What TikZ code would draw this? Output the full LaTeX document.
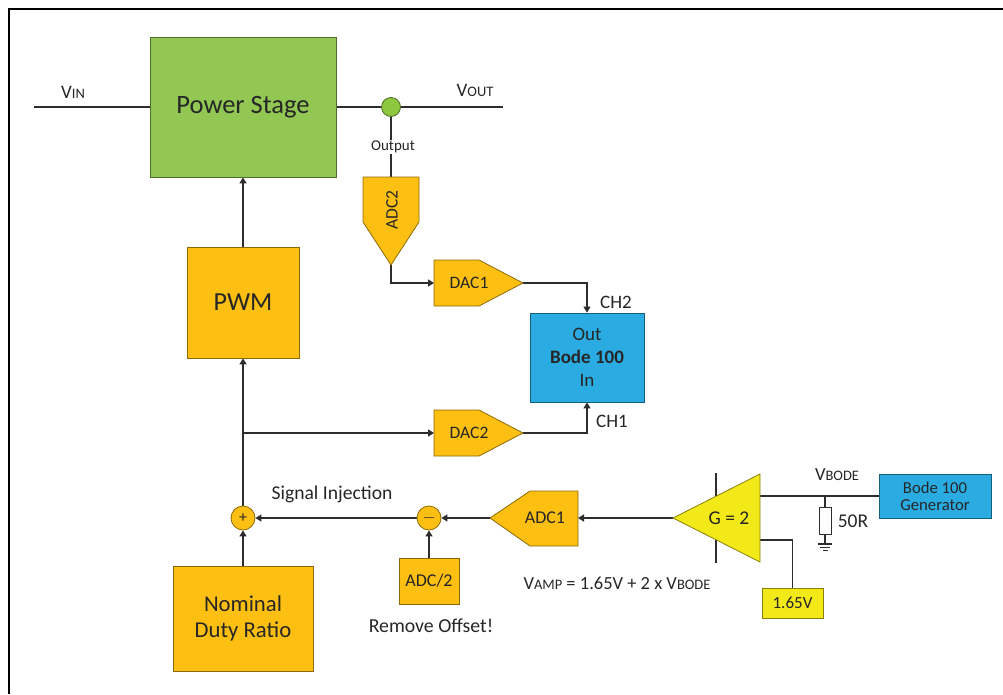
\documentclass[tikz,border=0pt]{standalone}
\usepackage{fontspec}
\setmainfont{Carlito}
\usetikzlibrary{arrows.meta}
\pgfdeclarelayer{bg}
\pgfsetlayers{bg,main}
\definecolor{psgreen}{RGB}{146,199,84}
\definecolor{dotgreen}{RGB}{141,198,63}
\definecolor{amber}{RGB}{252,191,18}
\definecolor{bodeblue}{RGB}{42,172,226}
\definecolor{ampyellow}{RGB}{244,233,24}
\definecolor{ink}{RGB}{38,38,38}
\definecolor{wirecol}{RGB}{45,45,45}
\newcommand{\fsz}[1]{\fontsize{#1}{#1}\selectfont}
\newcommand{\vsc}[2]{#1{\fsz{14.5}#2}}

\begin{document}
\begin{tikzpicture}[x=1pt,y=-1pt,
        wire/.style={draw=wirecol,line width=1.3pt},
        arr/.style={wire,-{Triangle[length=6pt,width=7pt]}},
        blk/.style={draw=#1!55!black,fill=#1,line width=0.8pt,text=ink,
                inner sep=0pt,align=center},
        lbl/.style={text=ink,inner sep=1pt,align=center}]
        \useasboundingbox (0,0) rectangle (1003,694);
        \draw[line width=2.6pt] (9,694) -- (9,9) -- (1003,9);

        \node (ps) [blk=psgreen,minimum width=186pt,minimum height=140pt,font=\fsz{26.5}] at (243,107) {Power Stage};
        \node (pwm) [blk=amber,minimum width=112pt,minimum height=111pt,font=\fsz{26}] at (243,302.5) {PWM};
        \node (ndr) [blk=amber,minimum width=140pt,minimum height=105pt,font=\fsz{22.7}] at (243,618.5) {Nominal\\[3pt]Duty Ratio};
        \node (bode) [blk=bodeblue,minimum width=114pt,minimum height=89pt,font=\fsz{19}] at (587,357.5) {Out\\[4pt]\textbf{Bode 100}\\[4pt]In};
        \node (half) [blk=amber,minimum width=60pt,minimum height=46pt,font=\fsz{18}] at (429,581) {ADC/2};
        \node (gen) [blk=bodeblue,minimum width=112pt,minimum height=44pt,font=\fsz{16.7}] at (935,496) {Bode 100\\Generator};
        \node (ref) [blk=ampyellow,minimum width=61pt,minimum height=30pt,font=\fsz{17}] at (792.5,603) {1.65V};
        \node (plus) [blk=amber,circle,minimum size=24pt,font=\fsz{16}] at (243,518) {+};
        \node (minus) [blk=amber,circle,minimum size=24pt,font=\fsz{16}] at (429,518) {$-$};
        \node (dot) [blk=dotgreen,circle,minimum size=19pt] at (391,107) {};
        \node (res) [draw=wirecol,fill=white,line width=1pt,minimum width=12pt,minimum height=27pt,inner sep=0pt] at (825,520.5) {};

        % converters and amplifier
        \draw[blk=amber] (363,177) -- (419,177) -- (419,222) -- (391,265) -- (363,222) -- cycle;
        \draw[blk=amber] (434,260) -- (479,260) -- (523,283) -- (479,306) -- (434,306) -- cycle;
        \draw[blk=amber] (434,410) -- (479,410) -- (523,433) -- (479,456) -- (434,456) -- cycle;
        \draw[blk=amber] (490,518) -- (530,491) -- (578,491) -- (578,546) -- (530,546) -- cycle;
        \draw[blk=ampyellow] (673,518) -- (760,474) -- (760,562) -- cycle;
        \node (adc2) [lbl,rotate=90,font=\fsz{17.5}] at (392,210) {ADC2};
        \node (dac1) [lbl,font=\fsz{17.5}] at (469,283) {DAC1};
        \node (dac2) [lbl,font=\fsz{17.5}] at (469,433) {DAC2};
        \node (adc1) [lbl,font=\fsz{18}] at (545,518) {ADC1};
        \node (amp) [lbl,font=\fsz{19.5}] at (729,518) {G = 2};

        \coordinate (vin) at (34,107);
        \coordinate (vout) at (503,107);
        \coordinate (adc2in) at (391,177);
        \coordinate (adc2out) at (391,265);
        \coordinate (dac1in) at (434,283);
        \coordinate (dac1out) at (523,283);
        \coordinate (dac2in) at (434,433);
        \coordinate (dac2out) at (523,433);
        \coordinate (tap) at (243,433);
        \coordinate (adc1in) at (578,518);
        \coordinate (adc1out) at (490,518);
        \coordinate (ampout) at (673,518);
        \coordinate (ampp) at (760,496);
        \coordinate (ampn) at (760,540);
        \coordinate (rtop) at (825,496);
        \coordinate (gnd) at (825,544);
        \coordinate (bartop) at (716,473);
        \coordinate (barbot) at (716,563);

        \node (vinl) [lbl,font=\fsz{19}] at (73,92) {\vsc{V}{IN}};
        \node (voutl) [lbl,font=\fsz{19}] at (475,90) {\vsc{V}{OUT}};
        \node (outl) [lbl,fill=white,font=\fsz{15}] at (393,147) {Output};
        \node (ch2) [lbl,font=\fsz{19}] at (616,302) {CH2};
        \node (ch1) [lbl,font=\fsz{19}] at (612,421) {CH1};
        \node (inj) [lbl,font=\fsz{19.6}] at (332,494) {Signal Injection};
        \node (offs) [lbl,font=\fsz{19.8}] at (431,626) {Remove Offset!};
        \node (vamp) [lbl,font=\fsz{18.5}] at (617,583) {\vsc{V}{AMP} = 1.65V + 2 x \vsc{V}{BODE}};
        \node (vbode) [lbl,font=\fsz{18.5}] at (837,475) {\vsc{V}{BODE}};
        \node (rl) [lbl,font=\fsz{19.5}] at (853,521) {50R};

        \begin{pgfonlayer}{bg}
                \draw[wire] (vin) -- (ps.west);
                \draw[wire] (ps.east) -- (dot) -- (vout);
                \draw[wire] (dot) -- (adc2in);
                \draw[arr] (adc2out) |- (dac1in);
                \draw[arr] (dac1out) -| (bode.north);
                \draw[arr] (dac2out) -| (bode.south);
                \draw[arr] (pwm.north) -- (ps.south);
                \draw[arr] (plus) -- (pwm.south);
                \draw[arr] (tap) -- (dac2in);
                \draw[arr] (ndr.north) -- (plus);
                \draw[arr] (minus) -- (plus);
                \draw[arr] (adc1out) -- (minus);
                \draw[arr] (half.north) -- (minus);
                \draw[arr] (ampout) -- (adc1in);
                \draw[wire] (ampp) -- (gen.west);
                \draw[wire] (ampn) -| (ref.north);
                \draw[wire] (rtop) -- (res.north);
                \draw[wire] (res.south) -- (gnd);
                \draw[wire] (bartop) -- (barbot);
                \draw[wire] ([xshift=-7pt]gnd) -- ([xshift=7pt]gnd);
                \draw[wire,line width=1pt] ([xshift=-5pt,yshift=-3pt]gnd) -- ([xshift=5pt,yshift=-3pt]gnd);
                \draw[wire,line width=1pt] ([xshift=-2.5pt,yshift=-6pt]gnd) -- ([xshift=2.5pt,yshift=-6pt]gnd);
        \end{pgfonlayer}
\end{tikzpicture}
\end{document}
